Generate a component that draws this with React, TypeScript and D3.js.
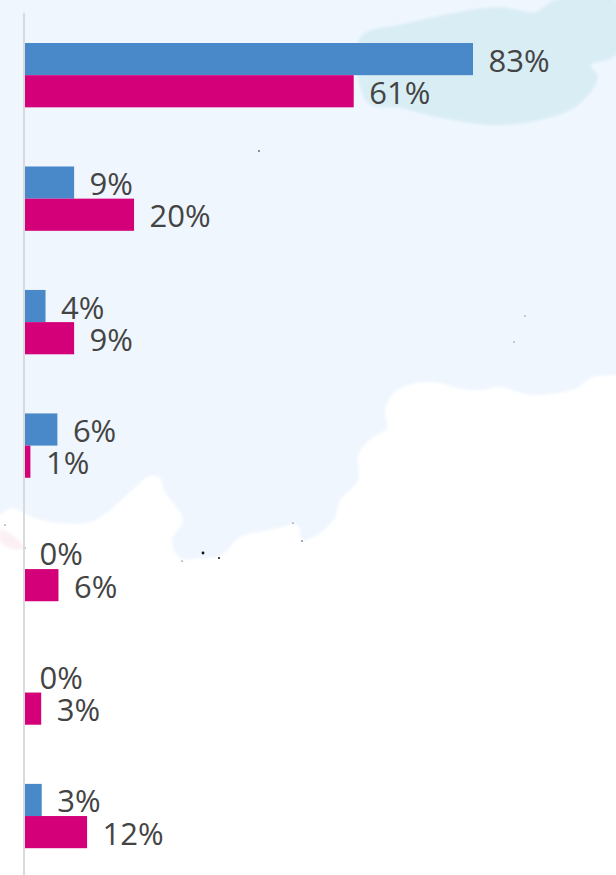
import React from "react";
import * as d3 from "d3";

const rows = ["A", "B", "C", "D", "E", "F", "G"];
const seriesBlue = [83, 9.1, 3.8, 6, 0, 0, 3.1];
const seriesPink = [60.9, 20.2, 9.1, 1, 6.2, 3, 11.5];

const W = 616;
const H = 875;
const x0 = 25;
const BLUE = "#4a89c9";
const PINK = "#d4007a";
const TEXT = "#444444";

// Decorative background map shapes (not data)
const coast: [number, number][] = [
  [616, 375], [590, 378], [577, 388], [533, 395], [500, 387], [480, 390], [457, 388],
  [433, 382], [397, 390], [385, 410], [387, 428], [372, 438], [358, 455], [358, 480], [340, 500],
  [335, 517], [320, 533], [302, 540], [298, 525], [290, 525], [270, 530], [240, 537], [222, 555],
  [200, 558], [180, 558], [172, 540], [183, 520], [165, 492], [160, 478], [150, 476], [130, 492],
  [110, 510], [90, 522], [60, 523], [35, 518], [24, 513], [12, 508], [0, 515],
];
const sea: [number, number][] = [
  [368, 103], [360, 38], [408, 23], [498, 7], [535, 12], [555, 0], [616, 0], [616, 55], [591, 65],
  [598, 77], [575, 107], [508, 125], [441, 118], [400, 108],
];
const blush: [number, number][] = [[0, 530], [8, 532], [24, 548], [12, 549], [0, 541]];
const specks: [number, number, number][] = [
  [5, 525, 0.6], [25, 548, 0.6], [203, 553, 1.4], [219, 558, 1], [182, 561, 0.6], [293, 523, 0.6],
  [302, 541, 0.7], [259, 151, 0.8], [525, 316, 0.5], [514, 342, 0.5],
];

export default function App() {
  const x = d3.scaleLinear().domain([0, 83]).range([x0, 473]);
  const band = d3.scaleBand<string>().domain(rows).range([43, 848.2]).paddingInner(0.479).paddingOuter(0);
  const sub = d3.scaleBand<string>().domain(["blue", "pink"]).range([0, band.bandwidth()]);
  const smooth = d3.line().curve(d3.curveCatmullRom.alpha(0.5));
  const closed = d3.line().curve(d3.curveCatmullRomClosed.alpha(0.5));

  const font = { fontFamily: "'Open Sans', sans-serif", fontSize: 31, fill: TEXT };

  const series = [
    { key: "blue", values: seriesBlue, color: BLUE },
    { key: "pink", values: seriesPink, color: PINK },
  ];

  return (
    <svg width={W} height={H} style={{ position: "absolute", left: 0, top: 0, display: "block", background: "#ffffff" }}>
      <defs>
        <filter id="soft" x="-5%" y="-5%" width="110%" height="110%">
          <feGaussianBlur stdDeviation="1.5" />
        </filter>
      </defs>
      <g filter="url(#soft)">
        <path d={smooth(coast) + "L-10,515L-10,-10L626,-10L626,375Z"} fill="#eff6fe" />
        <path d={closed(sea) ?? ""} fill="#d9edf5" />
        <path d={closed(blush) ?? ""} fill="#fcf0f4" />
      </g>
      {specks.map(([cx, cy, r], i) => (
        <circle key={i} cx={cx} cy={cy} r={r} fill="#111111" />
      ))}
      <rect x={23} y={13} width={2} height={H - 13} fill="#d9dadc" />
      {series.map((s) => (
        <g key={s.key}>
          {rows.map((r, i) => {
            const v = s.values[i];
            const y = band(r)! + sub(s.key)!;
            const h = sub.bandwidth();
            return (
              <g key={r}>
                {v > 0 && <rect x={x0} y={y} width={x(v) - x0} height={h} fill={s.color} />}
                <text x={x(v) + (v > 0 ? 15.5 : 14.5)} y={y + h / 2 + 12.5} {...font}>
                  {Math.round(v)}%
                </text>
              </g>
            );
          })}
        </g>
      ))}
    </svg>
  );
}
